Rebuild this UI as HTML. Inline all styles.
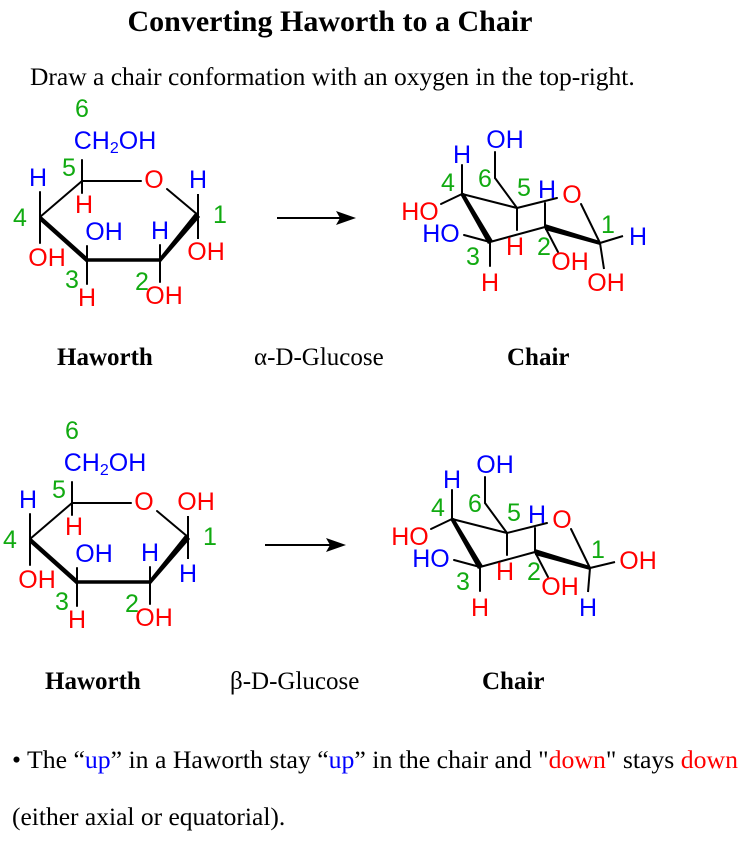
<!DOCTYPE html>
<html><head><meta charset="utf-8"><style>
body{margin:0;background:#fff;width:748px;height:851px;overflow:hidden}
svg{display:block}
.s{font-family:"Liberation Sans",Arial,sans-serif;font-size:25px;dominant-baseline:central;text-anchor:middle}
.r{fill:#f00}.b{fill:#00f}.g{fill:#1a1}
</style></head><body>
<svg width="748" height="851" viewBox="0 0 748 851" xmlns="http://www.w3.org/2000/svg">
<text x="330" y="31" text-anchor="middle" font-family="Liberation Serif,serif" font-weight="bold" font-size="30">Converting Haworth to a Chair</text>
<text x="30" y="85" font-family="Liberation Serif,serif" font-size="25.5">Draw a chair conformation with an oxygen in the top-right.</text>

<defs>
<g id="haw">
 <g stroke="#000" fill="none" stroke-linecap="round">
  <line x1="82" y1="181" x2="141" y2="181" stroke-width="2"/>
  <line x1="167" y1="189" x2="198" y2="215" stroke-width="2"/>
  <line x1="82" y1="181" x2="40" y2="217" stroke-width="2"/>
  <line x1="87" y1="260" x2="160" y2="260" stroke-width="3.5"/>
  <line x1="82" y1="181" x2="82" y2="160" stroke-width="2"/>
  <line x1="82" y1="181" x2="82" y2="193" stroke-width="2"/>
  <line x1="40" y1="217" x2="40" y2="192" stroke-width="2"/>
  <line x1="40" y1="217" x2="40" y2="243" stroke-width="2"/>
  <line x1="87" y1="260" x2="87" y2="246" stroke-width="2"/>
  <line x1="87" y1="260" x2="87" y2="284" stroke-width="2"/>
  <line x1="160" y1="260" x2="160" y2="245" stroke-width="2"/>
  <line x1="160" y1="260" x2="160" y2="282" stroke-width="2"/>
 </g>
 <polygon points="40,215 87,257 87,263 39,220" fill="#000"/>
 <polygon points="160,257 196,212 200,217 160,263" fill="#000"/>
 <text class="s r" x="154" y="180">O</text>
 <text class="s g" x="82" y="109">6</text>
 <text class="s b" x="115" y="141">CH<tspan font-size="16" dy="7">2</tspan><tspan dy="-7">OH</tspan></text>
 <text class="s g" x="69" y="168">5</text>
 <text class="s r" x="84" y="205">H</text>
 <text class="s b" x="38" y="178">H</text>
 <text class="s g" x="20" y="218">4</text>
 <text class="s r" x="47" y="258">OH</text>
 <text class="s g" x="72" y="280">3</text>
 <text class="s b" x="104" y="232">OH</text>
 <text class="s r" x="87" y="298">H</text>
 <text class="s b" x="160" y="231">H</text>
 <text class="s g" x="142" y="282">2</text>
 <text class="s r" x="164" y="296">OH</text>
 <text class="s g" x="220" y="215">1</text>
</g>
<g id="chair">
 <g stroke="#000" fill="none" stroke-width="2" stroke-linecap="round">
  <line x1="462" y1="194" x2="517" y2="208"/>
  <line x1="517" y1="208" x2="557" y2="198"/>
  <line x1="581" y1="204" x2="600" y2="243"/>
  <line x1="545" y1="227" x2="490" y2="242"/>
  <line x1="462" y1="194" x2="462" y2="165"/>
  <line x1="462" y1="194" x2="441" y2="204"/>
  <line x1="517" y1="208" x2="495" y2="178"/>
  <line x1="495" y1="178" x2="495" y2="152"/>
  <line x1="517" y1="208" x2="517" y2="230"/>
  <line x1="545" y1="227" x2="545" y2="203"/>
  <line x1="545" y1="227" x2="558" y2="252"/>
  <line x1="490" y1="242" x2="464" y2="235"/>
  <line x1="490" y1="242" x2="490" y2="266"/>
 </g>
 <polygon points="460,194 464,193 493,241 488,244" fill="#000"/>
 <polygon points="545,224 600,241 600,245 545,230" fill="#000"/>
 <text class="s r" x="572" y="195">O</text>
 <text class="s b" x="505" y="140">OH</text>
 <text class="s b" x="462" y="155">H</text>
 <text class="s g" x="448" y="183">4</text>
 <text class="s g" x="485" y="179">6</text>
 <text class="s g" x="524" y="188">5</text>
 <text class="s b" x="547" y="190">H</text>
 <text class="s r" x="420" y="212">HO</text>
 <text class="s b" x="441" y="234">HO</text>
 <text class="s r" x="515" y="247">H</text>
 <text class="s g" x="544" y="247">2</text>
 <text class="s r" x="570" y="262">OH</text>
 <text class="s g" x="473" y="257">3</text>
 <text class="s r" x="490" y="283">H</text>
 <text class="s g" x="608" y="225">1</text>
</g>
</defs>

<use href="#haw"/>
<g stroke="#000" stroke-width="2"><line x1="198" y1="215" x2="198" y2="194"/><line x1="198" y1="215" x2="198" y2="239"/></g>
<text class="s b" x="198" y="180">H</text>
<text class="s r" x="206" y="252">OH</text>

<g transform="translate(-10,322)"><use href="#haw"/>
<g stroke="#000" stroke-width="2"><line x1="198" y1="215" x2="198" y2="194"/><line x1="198" y1="215" x2="198" y2="237"/></g>
<text class="s r" x="206" y="180">OH</text>
<text class="s b" x="198" y="252">H</text>
</g>

<use href="#chair"/>
<g stroke="#000" stroke-width="2"><line x1="600" y1="243" x2="623" y2="236"/><line x1="600" y1="243" x2="604" y2="269"/></g>
<text class="s b" x="638" y="237">H</text>
<text class="s r" x="606" y="283">OH</text>

<g transform="translate(-10,325)"><use href="#chair"/>
<g stroke="#000" stroke-width="2"><line x1="600" y1="243" x2="625" y2="237"/><line x1="600" y1="243" x2="598" y2="267"/></g>
<text class="s r" x="648" y="236">OH</text>
<text class="s b" x="598" y="283">H</text>
</g>

<g stroke="#000" stroke-width="2"><line x1="277" y1="218" x2="340" y2="218"/><line x1="265" y1="545" x2="330" y2="545"/></g>
<polygon points="356,218 336,211 340,218 336,225" fill="#000"/>
<polygon points="346,545 326,538 330,545 326,552" fill="#000"/>

<g font-family="Liberation Serif,serif" font-size="25">
<text x="57" y="365" font-weight="bold">Haworth</text>
<text x="254" y="365">α-D-Glucose</text>
<text x="507" y="365" font-weight="bold">Chair</text>
<text x="45" y="689" font-weight="bold">Haworth</text>
<text x="230" y="689">β-D-Glucose</text>
<text x="482" y="689" font-weight="bold">Chair</text>
</g>
<g font-family="Liberation Serif,serif" font-size="25.5">
<text x="12" y="768" textLength="726" lengthAdjust="spacingAndGlyphs">• The “<tspan fill="#00f">up</tspan>” in a Haworth stay “<tspan fill="#00f">up</tspan>” in the chair and "<tspan fill="#f00">down</tspan>" stays <tspan fill="#f00">down</tspan></text>
<text x="12" y="825">(either axial or equatorial).</text>
</g>
</svg>
</body></html>
